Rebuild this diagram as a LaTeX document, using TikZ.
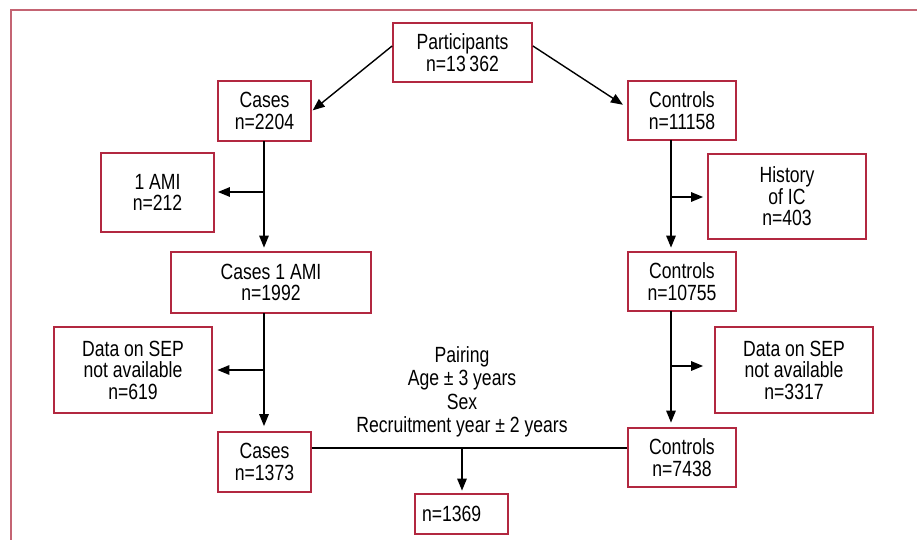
\documentclass[tikz,border=0pt]{standalone}
\usepackage{fontspec}
\setmainfont[FakeStretch=0.8]{Liberation Sans}
\usetikzlibrary{arrows.meta}
\definecolor{boxred}{RGB}{178,40,64}
\definecolor{framered}{RGB}{196,100,115}
\tikzset{
  fbox/.style={draw=boxred, line width=1.8pt, align=center, inner sep=0pt,
    font=\fontsize{22}{21.5}\selectfont},
  conn/.style={draw=black, line width=1.4pt},
  arr/.style={conn, -{Triangle[length=12pt,width=9.5pt]}},
  ptext/.style={align=center, inner sep=0pt, font=\fontsize{22}{23.5}\selectfont}
}
\begin{document}
\begin{tikzpicture}[x=1pt,y=-1pt]
\useasboundingbox (0,0) rectangle (917,540);
\draw[framered, line width=2pt] (10.5,545) -- (10.5,10) -- (925,10);

\node[fbox, minimum width=139pt, minimum height=59pt] (part) at (462.5,52.5) {Participants\\n=13\,362};
\node[fbox, minimum width=93pt, minimum height=60pt] (cases) at (264.5,111) {Cases\\n=2204};
\node[fbox, minimum width=113pt, minimum height=79pt] (ami) at (157.5,192.5) {1 AMI\\n=212};
\node[fbox, minimum width=200pt, minimum height=61pt] (cases1) at (271,282.5) {Cases 1 AMI\\n=1992};
\node[fbox, minimum width=158pt, minimum height=86pt] (sep1) at (133,370) {Data on SEP\\not available\\n=619};
\node[fbox, minimum width=93pt, minimum height=60pt] (cases2) at (264.5,462) {Cases\\n=1373};
\node[fbox, minimum height=40pt, text width=79pt, align=left, inner xsep=7pt] (res) at (461.5,514) {n=1369};

\node[fbox, minimum width=108pt, minimum height=59pt] (ctrl1) at (682,110.5) {Controls\\n=11158};
\node[fbox, minimum width=158pt, minimum height=85pt] (hist) at (787,196.5) {History\\of IC\\n=403};
\node[fbox, minimum width=108pt, minimum height=59pt] (ctrl2) at (682,281.5) {Controls\\n=10755};
\node[fbox, minimum width=158pt, minimum height=86pt] (sep2) at (794,370) {Data on SEP\\not available\\n=3317};
\node[fbox, minimum width=108pt, minimum height=59pt] (ctrl3) at (682,457.5) {Controls\\n=7438};

\node[ptext] (pair) at (462,392) {Pairing\\Age ± 3 years\\Sex\\Recruitment year ± 2 years};

% top split
\draw[arr, shorten >=1pt] ([yshift=6.5pt]part.west) -- (cases.east);
\draw[arr, shorten >=5pt] ([yshift=6.5pt]part.east) -- ([yshift=3pt]ctrl1.west);

% cases column
\coordinate (c1) at (264,141);
\coordinate (b1) at (264,192);
\draw[arr, shorten >=3.5pt] (c1) -- (c1 |- cases1.north);
\draw[arr, shorten >=3pt] (b1) -- (ami.east |- b1);

\coordinate (c2) at (264,313);
\coordinate (b2) at (264,370);
\draw[arr, shorten >=5pt] (c2) -- (c2 |- cases2.north);
\draw[arr, shorten >=4.5pt] (b2) -- (sep1.east |- b2);

% controls column
\coordinate (d1) at (671,140);
\coordinate (e1) at (671,197);
\draw[arr, shorten >=3.5pt] (d1) -- (d1 |- ctrl2.north);
\draw[arr, shorten >=4pt] (e1) -- (hist.west |- e1);

\coordinate (d2) at (671,311);
\coordinate (e2) at (671,366);
\draw[arr, shorten >=4.5pt] (d2) -- (d2 |- ctrl3.north);
\draw[arr, shorten >=11pt] (e2) -- (sep2.west |- e2);

% pairing
\coordinate (pj) at (462,448);
\draw[conn] (cases2.east |- pj) -- (ctrl3.west |- pj);
\draw[arr, shorten >=2.5pt] (pj) -- (pj |- res.north);
\end{tikzpicture}
\end{document}
